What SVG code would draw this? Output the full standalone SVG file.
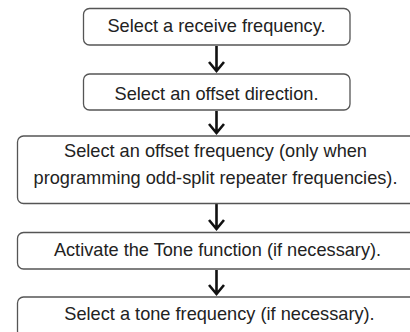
<svg xmlns="http://www.w3.org/2000/svg" width="410" height="332" viewBox="0 0 410 332">
<defs>
<style>
.box{fill:#fff;stroke:#555;stroke-width:1.3}
.t{font-family:"Liberation Sans",Arial,sans-serif;font-size:18.2px;fill:#222;text-anchor:middle}
.arr{fill:none;stroke:#111;stroke-width:2.6}
</style>
</defs>
<rect width="410" height="332" fill="#fff"/>
<g id="connectors">
<path class="arr" d="M216.5,46 V71 M209,62 L216.5,71 L224,62"/>
<path class="arr" d="M216.5,111 V133 M209,124 L216.5,133 L224,124"/>
<path class="arr" d="M216.5,204 V229 M209,220 L216.5,229 L224,220"/>
<path class="arr" d="M216.5,270 V294 M209,285 L216.5,294 L224,285"/>
</g>
<g id="n1">
<rect class="box" x="83.5" y="8.5" width="266.5" height="36.5" rx="6"/>
<text class="t" x="216.5" y="32">Select a receive frequency.</text>
</g>
<g id="n2">
<rect class="box" x="83.5" y="74" width="266.5" height="36" rx="6"/>
<text class="t" x="216.5" y="100">Select an offset direction.</text>
</g>
<g id="n3">
<rect class="box" x="17.5" y="136" width="398" height="67.5" rx="6"/>
<text class="t" x="215.5" y="157">Select an offset frequency (only when</text>
<text class="t" x="215.5" y="184">programming odd-split repeater frequencies).</text>
</g>
<g id="n4">
<rect class="box" x="17.5" y="232.5" width="398" height="36.5" rx="6"/>
<text class="t" x="217.5" y="256">Activate the Tone function (if necessary).</text>
</g>
<g id="n5">
<rect class="box" x="17.5" y="297" width="398" height="40" rx="6"/>
<text class="t" x="219.5" y="320">Select a tone frequency (if necessary).</text>
</g>
</svg>
